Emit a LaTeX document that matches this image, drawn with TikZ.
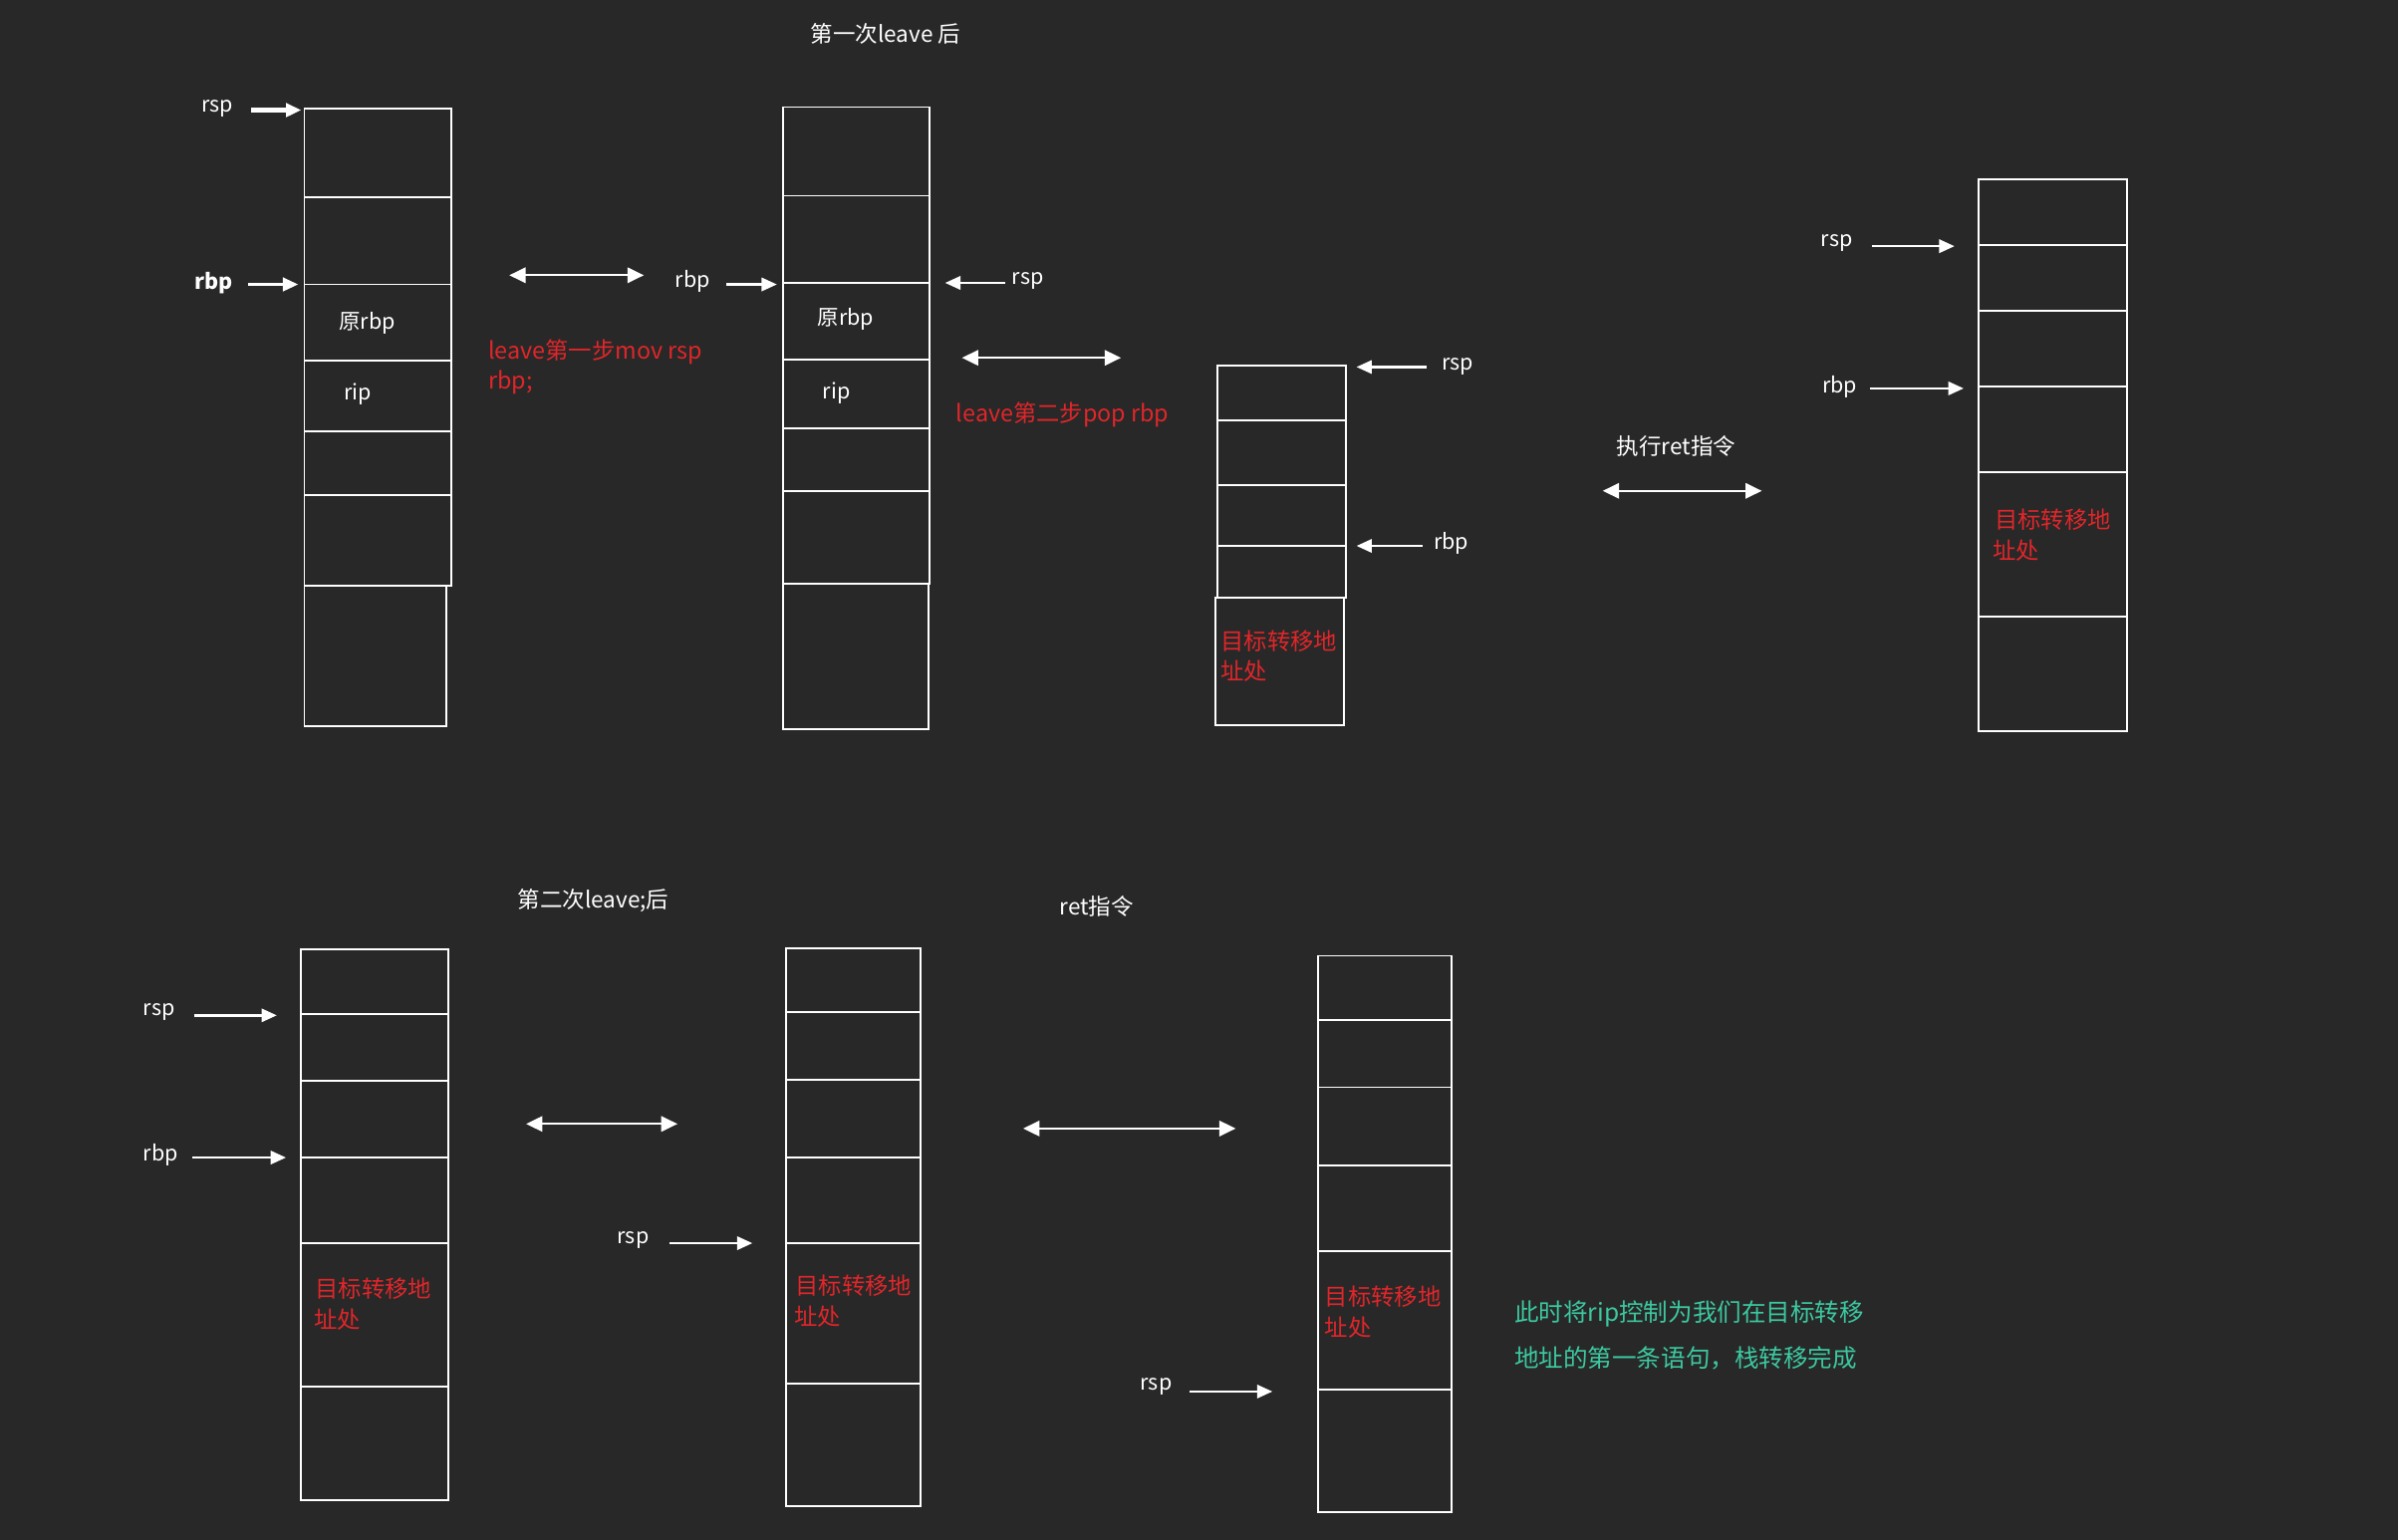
\documentclass[tikz,border=0pt]{standalone}
\usepackage{fontspec}
\setmainfont{Noto Sans CJK SC}
\usetikzlibrary{arrows.meta}
\definecolor{bgc}{HTML}{282828}
\definecolor{redc}{HTML}{E0262A}
\definecolor{tealc}{HTML}{3CC8A0}
\tikzset{
  cell/.style={draw=white,line width=0.9pt},
  ptr/.style={draw=white,line width=1.2pt,-{Triangle[length=7.5pt,width=6.5pt]}},
  dbl/.style={draw=white,line width=1.1pt,{Triangle[length=8pt,width=7.5pt]}-{Triangle[length=8pt,width=7.5pt]}},
  lbl/.style={text=white,font=\fontsize{10.5}{12}\selectfont,inner sep=0pt},
  ttl/.style={text=white,font=\fontsize{11}{13}\selectfont,inner sep=0pt},
  redt/.style={text=redc,font=\fontsize{11.4}{14}\selectfont,inner sep=0pt,anchor=west},
  tealt/.style={text=tealc,font=\fontsize{12}{15}\selectfont,inner sep=0pt,anchor=west}
}
\begin{document}
\begin{tikzpicture}[x=0.75pt,y=-0.75pt]
\fill[bgc] (0,0) rectangle (1568,1007);
\useasboundingbox (0,0) rectangle (1568,1007);

% ---------- titles ----------
\node[ttl] (t1) at (579,22) {第一次leave 后};
\node[ttl] (t2) at (388,589) {第二次leave;后};
\node[ttl] (t3) at (717,593) {ret指令};
\node[ttl] (t4) at (1096,292) {执行ret指令};

% ---------- stack A ----------
\draw[cell] (199,71) rectangle (295,383);
\foreach \y in {129,186,236,282,324} \draw[cell] (199,\y) -- (295,\y);
\draw[cell] (199,383) rectangle (292,475);
\node[lbl] (a1) at (240,211) {原rbp};
\node[lbl] (a2) at (234,258) {rip};
\node[lbl] (ars) at (142,71) {rsp};
\node[lbl,font=\bfseries\fontsize{10.5}{12}\selectfont] (arb) at (140,185) {rbp};
\draw[ptr,line width=2pt] (164,72) coordinate (ars1) -- (197,72) coordinate (ars2);
\draw[ptr,line width=1.6pt] (162,186) coordinate (arb1) -- (195,186) coordinate (arb2);

\draw[dbl] (333,180) coordinate (d1a) -- (421,180) coordinate (d1b);
\node[redt] (r1) at (319,230) {leave第一步mov rsp};
\node[redt] (r2) at (319,250) {rbp;};

% ---------- stack B ----------
\draw[cell] (512,70) rectangle (608,382);
\foreach \y in {128,185,235,280,321} \draw[cell] (512,\y) -- (608,\y);
\draw[cell] (512,382) rectangle (607,477);
\node[lbl] (b1) at (553,209) {原rbp};
\node[lbl] (b2) at (547,257) {rip};
\node[lbl] (brb) at (453,184) {rbp};
\node[lbl] (brs) at (672,184) {rsp};
\draw[ptr] (475,186) coordinate (brb1) -- (508,186) coordinate (brb2);
\draw[ptr] (657,185) coordinate (brs1) -- (618,185) coordinate (brs2);

\draw[dbl] (629,234) coordinate (d2a) -- (733,234) coordinate (d2b);
\node[redt] (r3) at (625,271) {leave第二步pop rbp};

% ---------- stack C ----------
\draw[cell] (796,239) rectangle (880,391);
\foreach \y in {275,317,357} \draw[cell] (796,\y) -- (880,\y);
\draw[cell] (795,391) rectangle (879,474);
\node[redt] (c1) at (798,419) {目标转移地};
\node[redt] (c2) at (798,439) {址处};
\node[lbl] (crs) at (953,240) {rsp};
\node[lbl] (crb) at (949,355) {rbp};
\draw[ptr] (933,240) coordinate (crs1) -- (887,240) coordinate (crs2);
\draw[ptr] (930,357) coordinate (crb1) -- (887,357) coordinate (crb2);

\draw[dbl] (1048,321) coordinate (d3a) -- (1152,321) coordinate (d3b);

% ---------- stack D ----------
\draw[cell] (1294,117) rectangle (1391,478);
\foreach \y in {160,203,253,309,403} \draw[cell] (1294,\y) -- (1391,\y);
\node[redt] (dd1) at (1304,340) {目标转移地};
\node[redt] (dd2) at (1303,360) {址处};
\node[lbl] (drs) at (1201,159) {rsp};
\node[lbl] (drb) at (1203,253) {rbp};
\draw[ptr] (1224,161) coordinate (drs1) -- (1278,161) coordinate (drs2);
\draw[ptr] (1223,254) coordinate (drb1) -- (1284,254) coordinate (drb2);

% ---------- stack E ----------
\draw[cell] (197,621) rectangle (293,981);
\foreach \y in {663,707,757,813,907} \draw[cell] (197,\y) -- (293,\y);
\node[redt] (e1) at (206,843) {目标转移地};
\node[redt] (e2) at (205,863) {址处};
\node[lbl] (ers) at (104,662) {rsp};
\node[lbl] (erb) at (105,755) {rbp};
\draw[ptr] (127,664) coordinate (ers1) -- (181,664) coordinate (ers2);
\draw[ptr] (126,757) coordinate (erb1) -- (187,757) coordinate (erb2);

\draw[dbl] (344,735) coordinate (d4a) -- (443,735) coordinate (d4b);

% ---------- stack F ----------
\draw[cell] (514,620) rectangle (602,985);
\foreach \y in {662,706,757,813,905} \draw[cell] (514,\y) -- (602,\y);
\node[redt] (f1) at (520,841) {目标转移地};
\node[redt] (f2) at (519,861) {址处};
\node[lbl] (frs) at (414,811) {rsp};
\draw[ptr] (438,813) coordinate (frs1) -- (492,813) coordinate (frs2);

\draw[dbl] (669,738) coordinate (d5a) -- (808,738) coordinate (d5b);

% ---------- stack G ----------
\draw[cell] (862,625) rectangle (949,989);
\foreach \y in {667,711,762,818,909} \draw[cell] (862,\y) -- (949,\y);
\node[redt] (g1) at (866,848) {目标转移地};
\node[redt] (g2) at (866,868) {址处};
\node[lbl] (grs) at (756,907) {rsp};
\draw[ptr] (778,910) coordinate (grs1) -- (832,910) coordinate (grs2);

\node[tealt] (n1) at (990,859) {此时将rip控制为我们在目标转移};
\node[tealt] (n2) at (990,888) {地址的第一条语句，栈转移完成};
\end{tikzpicture}
\end{document}
